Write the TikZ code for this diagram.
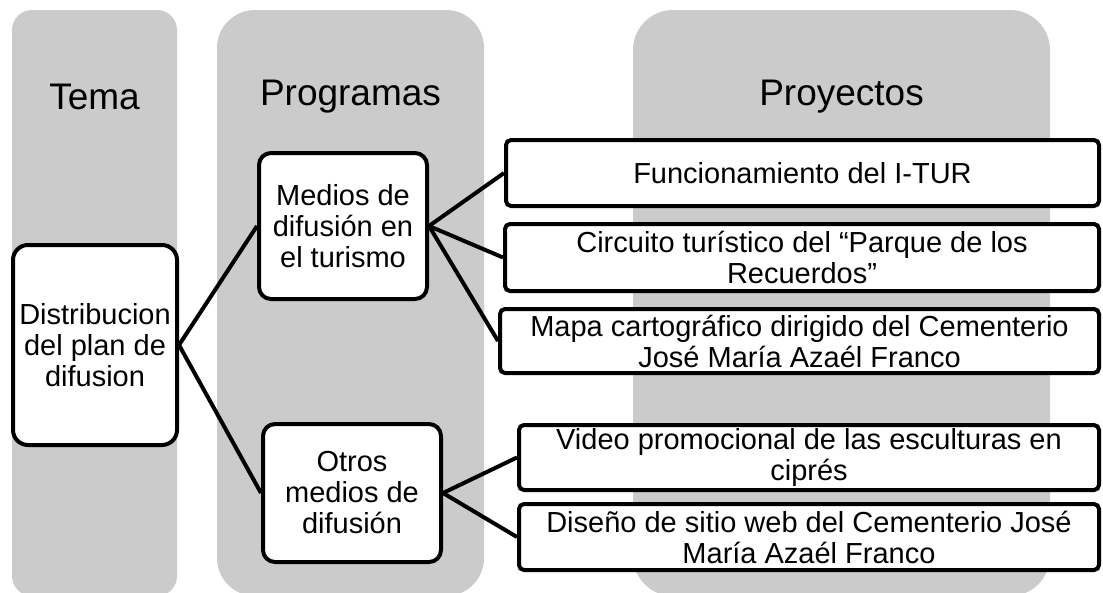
\documentclass[tikz,border=0pt]{standalone}
\usepackage{fontspec}
\setmainfont{Liberation Sans}
\definecolor{colgray}{RGB}{203,203,203}
\begin{document}
\begin{tikzpicture}[x=1pt, y=-1pt,
    column/.style={fill=colgray},
    header/.style={font=\fontsize{37}{40}\selectfont},
    box/.style={draw, line width=4pt, fill=white, align=center, inner sep=2pt,
        font=\fontsize{29}{31}\selectfont},
    project/.style={box, rounded corners=5pt, minimum height=66pt},
    conn/.style={line width=4pt}]
    \useasboundingbox (0,0) rectangle (1103,592);

    % columns
    \fill[column, rounded corners=20pt] (12,10) rectangle (177,596);
    \fill[column, rounded corners=38pt] (217,10) rectangle (484,596);
    \fill[column, rounded corners=40pt] (633,10) rectangle (1050,596);

    \node[header] (tema) at (94.5,97) {Tema};
    \node[header] (programas) at (350.5,97) {Programas};
    \node[header] (proyectos) at (841.5,97) {Proyectos};

    % boxes
    \node[box, rounded corners=15pt, minimum width=164pt, minimum height=200pt] (dist) at (95,345)
        {Distribucion\\del plan de\\difusion};
    \node[box, rounded corners=12pt, minimum width=168pt, minimum height=146pt] (medios) at (343,226)
        {Medios de\\difusión en\\el turismo};
    \node[box, rounded corners=12pt, minimum width=178pt, minimum height=138pt] (otros) at (352,493)
        {Otros\\medios de\\difusión};

    \node[project, minimum width=593pt] (itur) at (802.5,173) {Funcionamiento del I-TUR};
    \node[project, minimum width=594pt, minimum height=67pt] (circuito) at (802,257.5)
        {Circuito turístico del “Parque de los\\Recuerdos”};
    \node[project, minimum width=599pt, minimum height=64pt] (mapa) at (799.5,341)
        {Mapa cartográfico dirigido del Cementerio\\José María Azaél Franco};
    \node[project, minimum width=580pt, minimum height=65pt] (video) at (809,457.5)
        {Video promocional de las esculturas en\\ciprés};
    \node[project, minimum width=580pt] (sitio) at (809,537)
        {Diseño de sitio web del Cementerio José\\María Azaél Franco};

    % connectors
    \draw[conn] (dist.east) -- (medios.west);
    \draw[conn] (dist.east) -- (otros.west);
    \draw[conn] (medios.east) -- (itur.west);
    \draw[conn] (medios.east) -- (circuito.west);
    \draw[conn] (medios.east) -- (mapa.west);
    \draw[conn] (otros.east) -- (video.west);
    \draw[conn] (otros.east) -- (sitio.west);
\end{tikzpicture}
\end{document}
